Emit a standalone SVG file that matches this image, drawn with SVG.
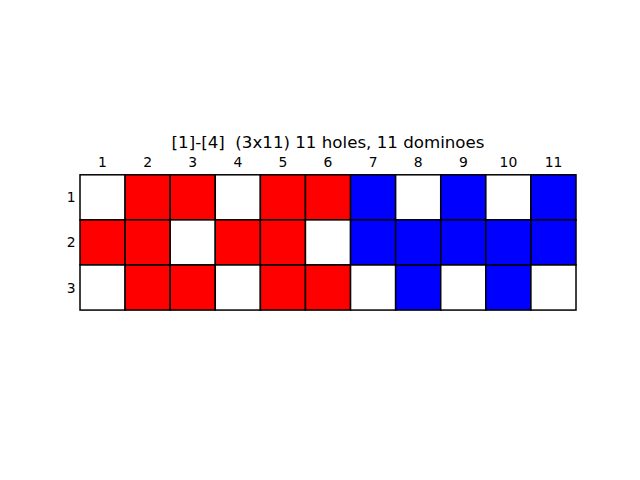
<svg xmlns="http://www.w3.org/2000/svg" width="640" height="480" viewBox="0 0 640 480">
<style>
text{font-family:"DejaVu Sans",sans-serif;fill:#000}
.t{font-size:16.67px;text-anchor:middle;white-space:pre}
.c{font-size:13.9px;text-anchor:middle}
.r{font-size:13.9px;text-anchor:end}
.cell rect{stroke:#000;stroke-width:1.5}
.w{fill:#fff}.R{fill:#f00}.B{fill:#00f}
</style>
<rect x="0" y="0" width="640" height="480" fill="#fff"/>
<text class="t" x="328" y="148" xml:space="preserve">[1]-[4]  (3x11) 11 holes, 11 dominoes</text>
<g id="col-labels">
<text class="c" x="102.5" y="167">1</text>
<text class="c" x="147.6" y="167">2</text>
<text class="c" x="192.7" y="167">3</text>
<text class="c" x="237.8" y="167">4</text>
<text class="c" x="282.9" y="167">5</text>
<text class="c" x="328" y="167">6</text>
<text class="c" x="373.1" y="167">7</text>
<text class="c" x="418.2" y="167">8</text>
<text class="c" x="463.3" y="167">9</text>
<text class="c" x="508.4" y="167">10</text>
<text class="c" x="553.5" y="167">11</text>
</g>
<g id="row-labels">
<text class="r" x="75.5" y="202.3">1</text>
<text class="r" x="75.5" y="247.4">2</text>
<text class="r" x="75.5" y="292.5">3</text>
</g>
<g id="row1" class="cell">
<rect class="w" x="80" y="174.8" width="45.09" height="45.09"/>
<rect class="R" x="125.09" y="174.8" width="45.09" height="45.09"/>
<rect class="R" x="170.18" y="174.8" width="45.09" height="45.09"/>
<rect class="w" x="215.27" y="174.8" width="45.09" height="45.09"/>
<rect class="R" x="260.36" y="174.8" width="45.09" height="45.09"/>
<rect class="R" x="305.45" y="174.8" width="45.09" height="45.09"/>
<rect class="B" x="350.55" y="174.8" width="45.09" height="45.09"/>
<rect class="w" x="395.64" y="174.8" width="45.09" height="45.09"/>
<rect class="B" x="440.73" y="174.8" width="45.09" height="45.09"/>
<rect class="w" x="485.82" y="174.8" width="45.09" height="45.09"/>
<rect class="B" x="530.91" y="174.8" width="45.09" height="45.09"/>
</g>
<g id="row2" class="cell">
<rect class="R" x="80" y="219.89" width="45.09" height="45.09"/>
<rect class="R" x="125.09" y="219.89" width="45.09" height="45.09"/>
<rect class="w" x="170.18" y="219.89" width="45.09" height="45.09"/>
<rect class="R" x="215.27" y="219.89" width="45.09" height="45.09"/>
<rect class="R" x="260.36" y="219.89" width="45.09" height="45.09"/>
<rect class="w" x="305.45" y="219.89" width="45.09" height="45.09"/>
<rect class="B" x="350.55" y="219.89" width="45.09" height="45.09"/>
<rect class="B" x="395.64" y="219.89" width="45.09" height="45.09"/>
<rect class="B" x="440.73" y="219.89" width="45.09" height="45.09"/>
<rect class="B" x="485.82" y="219.89" width="45.09" height="45.09"/>
<rect class="B" x="530.91" y="219.89" width="45.09" height="45.09"/>
</g>
<g id="row3" class="cell">
<rect class="w" x="80" y="264.98" width="45.09" height="45.09"/>
<rect class="R" x="125.09" y="264.98" width="45.09" height="45.09"/>
<rect class="R" x="170.18" y="264.98" width="45.09" height="45.09"/>
<rect class="w" x="215.27" y="264.98" width="45.09" height="45.09"/>
<rect class="R" x="260.36" y="264.98" width="45.09" height="45.09"/>
<rect class="R" x="305.45" y="264.98" width="45.09" height="45.09"/>
<rect class="w" x="350.55" y="264.98" width="45.09" height="45.09"/>
<rect class="B" x="395.64" y="264.98" width="45.09" height="45.09"/>
<rect class="w" x="440.73" y="264.98" width="45.09" height="45.09"/>
<rect class="B" x="485.82" y="264.98" width="45.09" height="45.09"/>
<rect class="w" x="530.91" y="264.98" width="45.09" height="45.09"/>
</g>
</svg>
